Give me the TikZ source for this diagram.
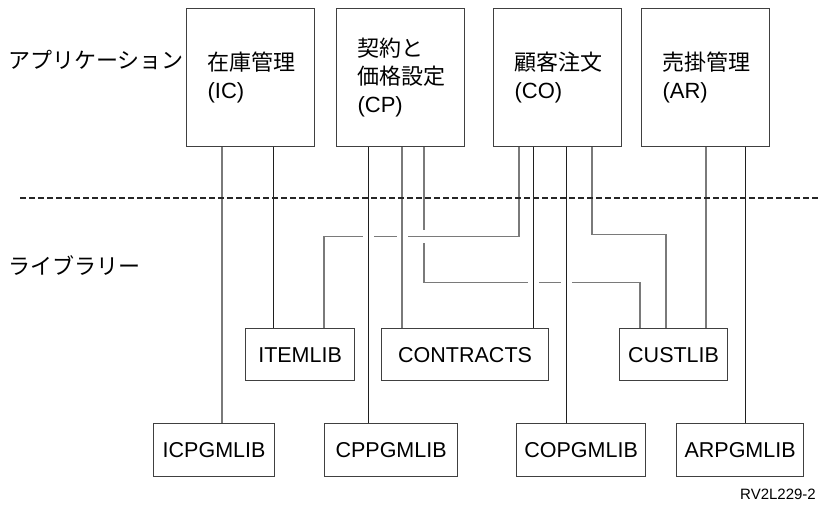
\documentclass[tikz,border=0pt]{standalone}
\usepackage{fontspec}
\setmainfont{Liberation Sans}
\newfontfamily\jp{Noto Sans CJK JP}
\usetikzlibrary{backgrounds}
\begin{document}
\begin{tikzpicture}[x=1pt,y=-1pt,
  appbox/.style={draw=black!75, line width=1.2pt, anchor=north west, minimum width=128pt, minimum height=138pt, text width=86pt, inner xsep=21pt, inner ysep=0pt, align=left, font=\fontsize{22}{28}\selectfont},
  libbox/.style={draw=black!75, line width=1.2pt, anchor=north west, minimum height=52pt, inner sep=0pt, font=\fontsize{21.5}{26}\selectfont},
  gl/.style={draw=black!52, line width=1.3pt},
  dl/.style={draw=black!88, line width=1pt},
  over/.style={preaction={draw=white, line width=#1}}, over/.default=11pt,
  lbl/.style={anchor=west, inner sep=0pt, font=\fontsize{22}{26}\selectfont\jp}]
\useasboundingbox (0,0) rectangle (818,506);
\node[lbl] (applbl) at (8,60) {アプリケーション};
\node[lbl] (liblbl) at (8,266) {ライブラリー};
\node[appbox] (ic) at (186,8) {{\jp 在庫管理}\\(IC)};
\node[appbox] (cp) at (336,8) {{\jp 契約と}\\{\jp 価格設定}\\(CP)};
\node[appbox] (co) at (493,8) {{\jp 顧客注文}\\(CO)};
\node[appbox] (ar) at (641,8) {{\jp 売掛管理}\\(AR)};
\node[libbox, minimum width=109pt] (itemlib) at (245,328) {ITEMLIB};
\node[libbox, minimum width=167pt] (contracts) at (381,328) {CONTRACTS};
\node[libbox, minimum width=108pt] (custlib) at (619,328) {CUSTLIB};
\node[libbox, minimum width=121pt, minimum height=53pt] (icpgm) at (153,423) {ICPGMLIB};
\node[libbox, minimum width=133pt, minimum height=53pt] (cppgm) at (324,423) {CPPGMLIB};
\node[libbox, minimum width=129pt, minimum height=53pt] (copgm) at (516,423) {COPGMLIB};
\node[libbox, minimum width=127pt, minimum height=53pt] (arpgm) at (676,423) {ARPGMLIB};
\node[anchor=base west, inner sep=0pt, font=\fontsize{15}{17}\selectfont] (code) at (740,499) {RV2L229-2};
\begin{pgfonlayer}{background}
\draw[gl] ([xshift=88pt]cp.south west) -- ++(0,135) -| ([xshift=21pt]custlib.north west);
\draw[gl, over=13pt] ([xshift=26pt]co.south west) -- ++(0,89) -| ([xshift=79pt]itemlib.north west);
\draw[dl, over] ([xshift=32pt]cp.south west) -- ([xshift=44pt]cppgm.north west);
\draw[gl, over] ([xshift=66pt]cp.south west) -- ([xshift=21pt]contracts.north west);
\draw[dl, over] ([xshift=40pt]co.south west) -- ([xshift=152pt]contracts.north west);
\draw[dl, over] ([xshift=73pt]co.south west) -- ([xshift=50pt]copgm.north west);
\draw[gl] ([xshift=36pt]ic.south west) -- ([xshift=69pt]icpgm.north west);
\draw[dl] ([xshift=87pt]ic.south west) -- ([xshift=28pt]itemlib.north west);
\draw[gl] ([xshift=99pt]co.south west) -- ++(0,87) -| ([xshift=47pt]custlib.north west);
\draw[gl] ([xshift=65pt]ar.south west) -- ([xshift=87pt]custlib.north west);
\draw[dl] ([xshift=104pt]ar.south west) -- ([xshift=69pt]arpgm.north west);
\coordinate (sepL) at (20,198);
\coordinate (sepR) at (818,198);
\draw[black!85, line width=1.5pt, dash pattern=on 6pt off 3pt] (sepL) -- (sepR);
\end{pgfonlayer}
\end{tikzpicture}
\end{document}
